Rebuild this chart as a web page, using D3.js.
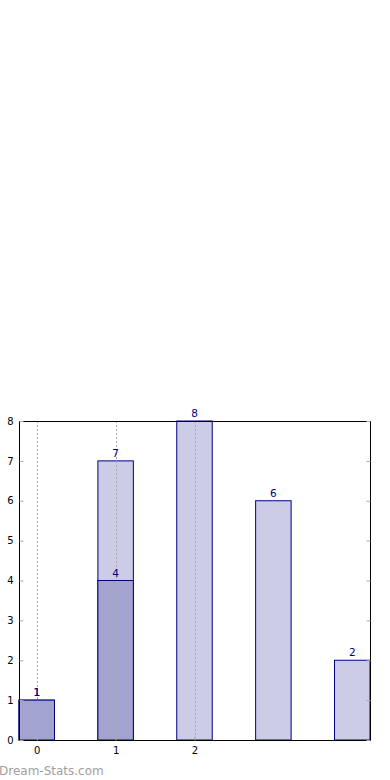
<!DOCTYPE html>
<html><head><meta charset="utf-8">
<script src="https://cdn.jsdelivr.net/npm/d3@7"></script>
<style>body{margin:0;background:#fff;}svg{display:block;}</style>
</head><body>
<svg id="c" width="390" height="780"></svg>
<script>
const categories = [0, 1, 2, 3, 4];
const totalValues = [1, 7, 8, 6, 2];
const partValues = [1, 4, null, null, null];
const xTickLabels = ["0", "1", "2"];
const yTicks = [0, 1, 2, 3, 4, 5, 6, 7, 8];

const svg = d3.select("#c");
const L = 19, R = 370, T = 421, B = 740;
const barW = 0.45;
const x = d3.scaleLinear().domain([-barW/2, 4 + barW/2]).range([L, R]);
const y = d3.scaleLinear().domain([0, 8]).range([B, T]);
const bw = x(barW) - x(0);
const font = "DejaVu Sans, sans-serif";
const navy = "#000080";

// light bars
svg.append("g").selectAll("rect").data(categories).join("rect")
  .attr("x", d => x(d) - bw/2).attr("y", (d,i) => y(totalValues[i]))
  .attr("width", bw).attr("height", (d,i) => y(0) - y(totalValues[i]))
  .attr("fill", "#ccccE6").attr("stroke", navy).attr("stroke-width", 1);

// dark bars
const partData = categories.map((c,i)=>({c, v: partValues[i]})).filter(d=>d.v!=null);
svg.append("g").selectAll("rect").data(partData).join("rect")
  .attr("x", d => x(d.c) - bw/2).attr("y", d => y(d.v))
  .attr("width", bw).attr("height", d => y(0) - y(d.v))
  .attr("fill", "#a3a3cf").attr("stroke", navy).attr("stroke-width", 1);

// vertical dotted grid on top
svg.append("g").selectAll("line").data([0,1,2]).join("line")
  .attr("x1", d => Math.round(x(d)) + 0.5).attr("x2", d => Math.round(x(d)) + 0.5)
  .attr("y1", T).attr("y2", B)
  .attr("stroke", "#aaaaaa").attr("stroke-width", 1).attr("stroke-dasharray", "2,2");

// frame
svg.append("rect").attr("x", L + 0.5).attr("y", T + 0.5).attr("width", R - L).attr("height", B - T)
  .attr("fill", "none").attr("stroke", "#000").attr("stroke-width", 1);

// y axis
const yAxis = d3.axisLeft(y).tickValues(yTicks).tickSize(-4).tickPadding(6).tickFormat(d3.format("d"));
const gy = svg.append("g").attr("transform", `translate(${L + 0.5},0)`).call(yAxis);
gy.select(".domain").remove();
gy.selectAll(".tick line").attr("stroke", "#aaa");
gy.selectAll("text").attr("font-family", font).attr("font-size", 10).attr("fill", "#000");

const yAxisR = d3.axisRight(y).tickValues(yTicks).tickSize(-4).tickFormat("");
const gyr = svg.append("g").attr("transform", `translate(${R + 0.5},0)`).call(yAxisR);
gyr.select(".domain").remove();
gyr.selectAll(".tick line").attr("stroke", "#aaa");

// x axis
const xAxis = d3.axisBottom(x).tickValues([0,1,2]).tickSize(-4).tickPadding(6).tickFormat((d,i)=>xTickLabels[i]);
const gx = svg.append("g").attr("transform", `translate(0,${B + 0.5})`).call(xAxis);
gx.select(".domain").remove();
gx.selectAll(".tick line").attr("stroke", "#aaa");
gx.selectAll("text").attr("font-family", font).attr("font-size", 10).attr("fill", "#000");

// value labels
svg.append("g").selectAll("text").data(categories).join("text")
  .attr("x", d => x(d)).attr("y", (d,i) => y(totalValues[i]) - 4)
  .attr("text-anchor", "middle").attr("font-family", font).attr("font-size", 10.5).attr("fill", navy)
  .text((d,i) => totalValues[i]);
svg.append("g").selectAll("text").data(partData).join("text")
  .attr("x", d => x(d.c)).attr("y", d => y(d.v) - 4)
  .attr("text-anchor", "middle").attr("font-family", font).attr("font-size", 10.5).attr("fill", navy)
  .text(d => d.v);

svg.append("text").attr("x", -1).attr("y", 775).attr("font-family", font).attr("font-size", 12)
  .attr("fill", "#a0a0a0").text("Dream-Stats.com");
</script>
</body></html>
